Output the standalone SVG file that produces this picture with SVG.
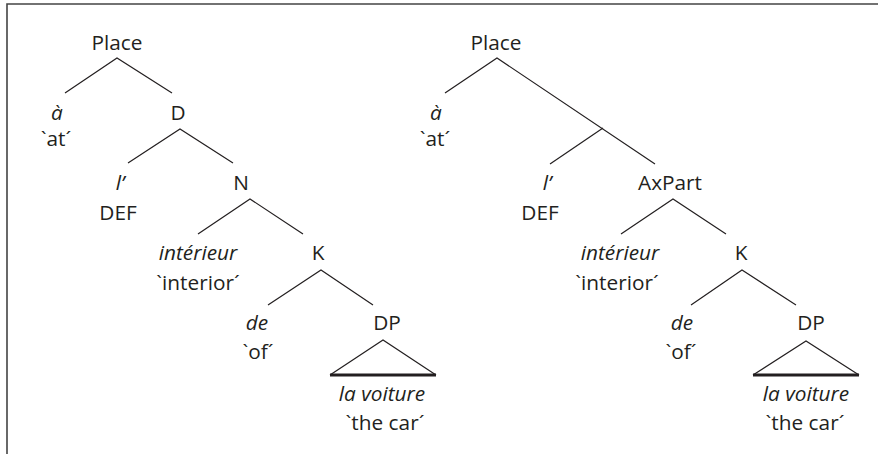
<svg xmlns="http://www.w3.org/2000/svg" width="878" height="454" viewBox="0 0 878 454">
<style>
text{font-family:"Open Sans","Liberation Sans",sans-serif;font-size:20.8px;fill:#231f20;text-anchor:middle}
.i{font-style:italic}
.e{stroke:#231f20;stroke-width:1.2;fill:none}
.b{stroke:#231f20;stroke-width:3;fill:none}
.f{stroke:#444;stroke-width:1.6;fill:none}
</style>
<rect x="0" y="0" width="878" height="454" fill="#fff"/>
<path class="f" d="M7,454 V4 H878"/>
<g id="connectors">
<path class="e" d="M65,93 L117,58 L172,93"/>
<path class="e" d="M128,163 L180,129 L233,163"/>
<path class="e" d="M198,234 L250,199 L303,234"/>
<path class="e" d="M268,305 L321,270 L373,305"/>
<path class="e" d="M330,375 L383,340 L436,375"/>
<path class="b" d="M330,375 H436"/>
<path class="e" d="M445,93 L497,58 L655,164"/>
<path class="e" d="M550,164 L603,128"/>
<path class="e" d="M621,234 L673,199 L726,234"/>
<path class="e" d="M691,305 L742,270 L796,305"/>
<path class="e" d="M753,375 L806,341 L859,375"/>
<path class="b" d="M753,375 H859"/>
</g>
<g id="L-place"><text x="117" y="50">Place</text></g>
<g id="L-a"><text class="i" x="57" y="120">à</text><text x="56" y="146">`at´</text></g>
<g id="L-D"><text x="178" y="120">D</text></g>
<g id="L-l"><text class="i" x="120" y="190">l’</text><text x="118" y="220">DEF</text></g>
<g id="L-N"><text x="241" y="190">N</text></g>
<g id="L-int"><text class="i" x="198" y="260">intérieur</text><text x="198" y="290">`interior´</text></g>
<g id="L-K"><text x="318" y="260">K</text></g>
<g id="L-de"><text class="i" x="257" y="330">de</text><text x="258" y="359">`of´</text></g>
<g id="L-DP"><text x="387" y="330">DP</text></g>
<g id="L-voiture"><text class="i" x="382" y="401">la voiture</text><text x="385" y="430">`the car´</text></g>
<g id="R-place"><text x="496" y="50">Place</text></g>
<g id="R-a"><text class="i" x="436" y="120">à</text><text x="435" y="146">`at´</text></g>
<g id="R-l"><text class="i" x="547" y="190">l’</text><text x="540" y="220">DEF</text></g>
<g id="R-AxPart"><text x="670" y="190">AxPart</text></g>
<g id="R-int"><text class="i" x="620" y="260">intérieur</text><text x="617" y="290">`interior´</text></g>
<g id="R-K"><text x="741" y="260">K</text></g>
<g id="R-de"><text class="i" x="682" y="330">de</text><text x="681" y="359">`of´</text></g>
<g id="R-DP"><text x="811" y="330">DP</text></g>
<g id="R-voiture"><text class="i" x="806" y="401">la voiture</text><text x="805" y="430">`the car´</text></g>
</svg>
